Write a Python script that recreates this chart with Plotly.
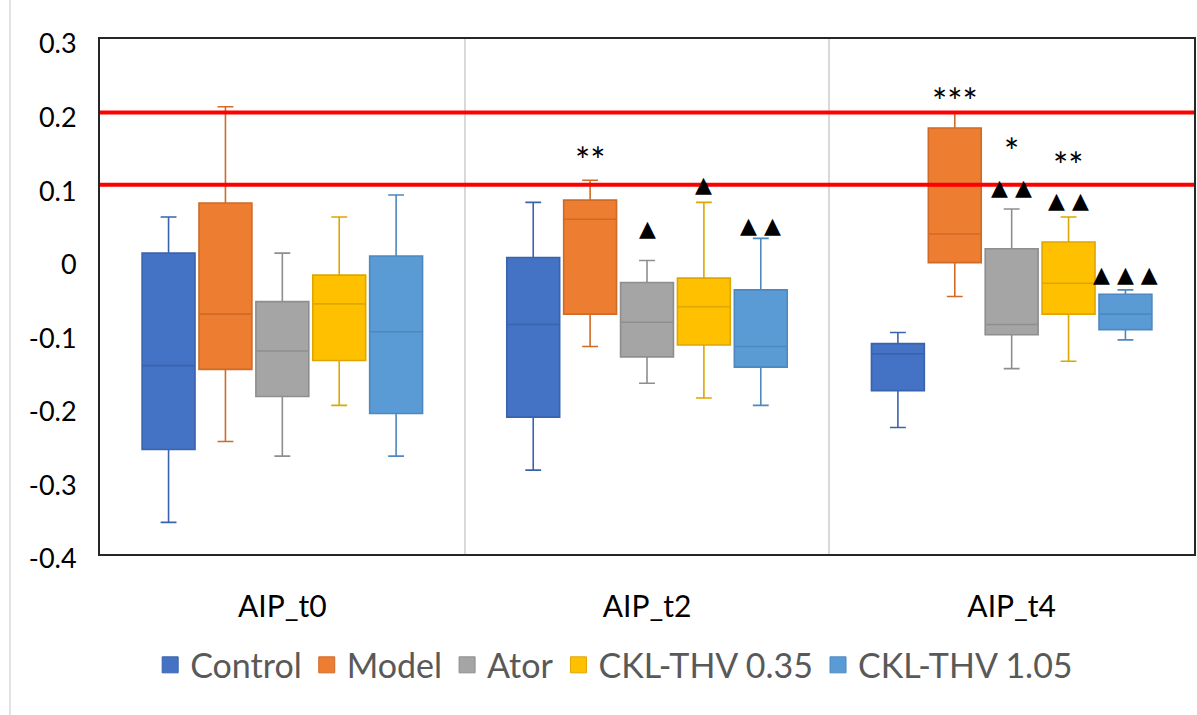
import plotly.graph_objects as go

# Time points and treatment groups
CATEGORIES = ["AIP_t0", "AIP_t2", "AIP_t4"]
GROUPS = ["Control", "Model", "Ator", "CKL-THV 0.35", "CKL-THV 1.05"]

# Box statistics per group, one value per time point
LOWER = {
    "Control":      [-0.357, -0.286, -0.228],
    "Model":        [-0.247, -0.118, -0.050],
    "Ator":         [-0.267, -0.168, -0.148],
    "CKL-THV 0.35": [-0.198, -0.188, -0.138],
    "CKL-THV 1.05": [-0.267, -0.198, -0.109],
}
Q1 = {
    "Control":      [-0.258, -0.214, -0.178],
    "Model":        [-0.149, -0.074, -0.004],
    "Ator":         [-0.186, -0.132, -0.102],
    "CKL-THV 0.35": [-0.137, -0.116, -0.074],
    "CKL-THV 1.05": [-0.209, -0.146, -0.095],
}
MEDIAN = {
    "Control":      [-0.144, -0.088, -0.128],
    "Model":        [-0.074, 0.055, 0.035],
    "Ator":         [-0.124, -0.085, -0.088],
    "CKL-THV 0.35": [-0.060, -0.064, -0.032],
    "CKL-THV 1.05": [-0.098, -0.118, -0.074],
}
Q3 = {
    "Control":      [0.009, 0.003, -0.114],
    "Model":        [0.077, 0.081, 0.179],
    "Ator":         [-0.057, -0.031, 0.015],
    "CKL-THV 0.35": [-0.021, -0.025, 0.024],
    "CKL-THV 1.05": [0.005, -0.041, -0.047],
}
UPPER = {
    "Control":      [0.058, 0.078, -0.099],
    "Model":        [0.208, 0.108, 0.199],
    "Ator":         [0.009, -0.001, 0.069],
    "CKL-THV 0.35": [0.058, 0.078, 0.058],
    "CKL-THV 1.05": [0.088, 0.029, -0.041],
}

# Y axis ticks
Y_TICKS = [0.3, 0.2, 0.1, 0.0, -0.1, -0.2, -0.3, -0.4]
Y_TICK_LABELS = ["0.3", "0.2", "0.1", "0", "-0.1", "-0.2", "-0.3", "-0.4"]

# Horizontal reference levels
REF_LEVELS = [0.2, 0.102]

# Significance marks: (time point, group, height, label)
SIG_MARKS = [
    ("AIP_t2", "Model", 0.143, "**"),
    ("AIP_t2", "Ator", 0.043, "▲"),
    ("AIP_t2", "CKL-THV 0.35", 0.102, "▲"),
    ("AIP_t2", "CKL-THV 1.05", 0.047, "▲ ▲"),
    ("AIP_t4", "Model", 0.222, "***"),
    ("AIP_t4", "Ator", 0.154, "*"),
    ("AIP_t4", "Ator", 0.098, "▲ ▲"),
    ("AIP_t4", "CKL-THV 0.35", 0.136, "**"),
    ("AIP_t4", "CKL-THV 0.35", 0.080, "▲ ▲"),
    ("AIP_t4", "CKL-THV 1.05", -0.020, "▲ ▲ ▲"),
]

FILL = {
    "Control": "#4472C4",
    "Model": "#ED7D31",
    "Ator": "#A5A5A5",
    "CKL-THV 0.35": "#FFC000",
    "CKL-THV 1.05": "#5B9BD5",
}
EDGE = {
    "Control": "#3A63AE",
    "Model": "#CF6A27",
    "Ator": "#8E8E8E",
    "CKL-THV 0.35": "#DDA600",
    "CKL-THV 1.05": "#4E88BE",
}

BOXGAP = 0.22
BOXGROUPGAP = 0.07
FONT = "Lato, 'Noto Sans', sans-serif"

fig = go.Figure()

for g in GROUPS:
    fig.add_trace(go.Box(
        name=g,
        x=CATEGORIES,
        lowerfence=LOWER[g],
        q1=Q1[g],
        median=MEDIAN[g],
        q3=Q3[g],
        upperfence=UPPER[g],
        fillcolor=FILL[g],
        line=dict(color=EDGE[g], width=1.6),
        whiskerwidth=0.3,
        boxpoints=False,
        showlegend=False,
        hoverinfo="skip",
    ))

# Square legend swatches
for g in GROUPS:
    fig.add_trace(go.Scatter(
        x=[None], y=[None], mode="markers", name=g,
        marker=dict(symbol="square", size=24, color=FILL[g],
                    line=dict(color=EDGE[g], width=1)),
        showlegend=True,
    ))

# Reference lines across the plot area
for lvl in REF_LEVELS:
    fig.add_shape(type="line", xref="paper", yref="y", x0=0, x1=1, y0=lvl, y1=lvl,
                  line=dict(color="#FF0000", width=4), layer="above")

# Significance marks placed on a hidden numeric axis aligned with the categories
slot = (1 - BOXGAP) / len(GROUPS)
for cat, g, yv, txt in SIG_MARKS:
    xpos = CATEGORIES.index(cat) + (GROUPS.index(g) - (len(GROUPS) - 1) / 2) * slot
    is_tri = "▲" in txt
    fig.add_annotation(
        x=xpos, y=yv, xref="x2", yref="y", text=txt, showarrow=False,
        font=dict(family="'DejaVu Sans'" if is_tri else FONT,
                  size=22 if is_tri else 36, color="#000000"),
        yanchor="middle", xanchor="center",
        yshift=0 if is_tri else -5,
    )

# Faint outer border on the left side of the chart area
fig.add_shape(type="line", xref="paper", yref="paper", x0=-0.0823, x1=-0.0823,
              y0=-0.32, y1=1.08, line=dict(color="#D9D9D9", width=1.5))

fig.update_layout(
    width=1197, height=715,
    margin=dict(l=100, r=3, t=39, b=161, autoexpand=False),
    paper_bgcolor="white", plot_bgcolor="white",
    boxmode="group", boxgap=BOXGAP, boxgroupgap=BOXGROUPGAP,
    font=dict(family=FONT, color="#000000"),
    legend=dict(orientation="h", x=0.47, xanchor="center", y=-0.216, yanchor="middle",
                font=dict(size=34, color="#595959"), itemclick=False),
    xaxis=dict(
        type="category", range=[-0.5, 2.5], tickson="boundaries",
        showgrid=True, gridcolor="#D9D9D9", gridwidth=1.5,
        showline=True, linecolor="#262626", linewidth=2, mirror=True,
        ticks="", tickfont=dict(size=30, color="#000000"),
        ticklabelstandoff=25, automargin=False,
    ),
    xaxis2=dict(overlaying="x", range=[-0.5, 2.5], visible=False),
    yaxis=dict(
        range=[-0.4, 0.3], tickvals=Y_TICKS, ticktext=Y_TICK_LABELS,
        showgrid=False, zeroline=False,
        showline=True, linecolor="#262626", linewidth=2, mirror=True,
        ticks="", tickfont=dict(size=27, color="#000000"),
        ticklabelstandoff=16, ticklabelshift=5, automargin=False,
    ),
)

fig.write_html("out.html")
